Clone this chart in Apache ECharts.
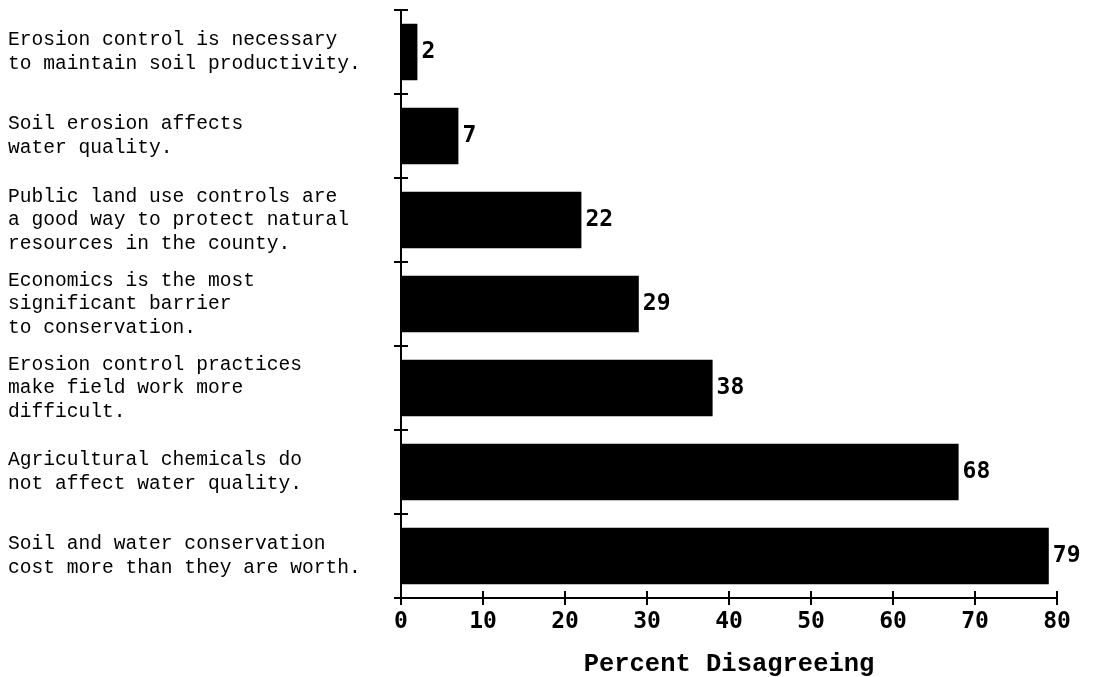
<!DOCTYPE html>
<html>
<head>
<meta charset="utf-8">
<script src="https://cdn.jsdelivr.net/npm/echarts@6/dist/echarts.min.js"></script>
<style>
  html, body { margin: 0; padding: 0; background: #fff; }
  #chart { width: 1093px; height: 677px; }
</style>
</head>
<body>
<div id="chart"></div>
<script>
// Statements shown on the left, top to bottom
let statements = [
    "Erosion control is necessary\nto maintain soil productivity.",
    "Soil erosion affects\nwater quality.",
    "Public land use controls are\na good way to protect natural\nresources in the county.",
    "Economics is the most\nsignificant barrier\nto conservation.",
    "Erosion control practices\nmake field work more\ndifficult.",
    "Agricultural chemicals do\nnot affect water quality.",
    "Soil and water conservation\ncost more than they are worth."
];
// Percent disagreeing
let percent_disagreeing = [2, 7, 22, 29, 38, 68, 79];
let axis_title = "Percent Disagreeing";

let chart_dom = document.getElementById("chart");
let chart = echarts.init(chart_dom);

let mono_bold = "'DejaVu Sans Mono', monospace";
let typewriter = "'Liberation Mono', 'Courier New', monospace";

//--------------------Axes--------------------
let x_axis_main = {
    type: 'value',
    min: 0,
    max: 80,
    interval: 10,
    name: axis_title,
    nameLocation: 'middle',
    nameGap: 54,
    nameTextStyle: {
        color: '#000',
        fontFamily: typewriter,
        fontWeight: 'bold',
        fontSize: 25.5
    },
    axisLine: { show: true, lineStyle: { color: '#000', width: 2 } },
    axisTick: { show: true, length: 7, lineStyle: { color: '#000', width: 2 } },
    axisLabel: {
        color: '#000',
        fontFamily: mono_bold,
        fontWeight: 'bold',
        fontSize: 23,
        margin: 13
    },
    splitLine: { show: false }
};
// second x axis only to draw the inner half of the ticks
let x_axis_inner = {
    type: 'value',
    position: 'bottom',
    min: 0,
    max: 80,
    interval: 10,
    axisLine: { show: false },
    axisTick: { show: true, inside: true, length: 7, lineStyle: { color: '#000', width: 2 } },
    axisLabel: { show: false },
    splitLine: { show: false }
};
let y_axis_main = {
    type: 'category',
    data: statements,
    inverse: true,
    axisLine: { show: true, lineStyle: { color: '#000', width: 2 } },
    axisTick: { show: true, length: 7, lineStyle: { color: '#000', width: 2 } },
    axisLabel: {
        color: '#000',
        fontFamily: typewriter,
        fontSize: 19.6,
        lineHeight: 23.5,
        align: 'left',
        margin: 393
    }
};
// second y axis only to draw the inner half of the ticks
let y_axis_inner = {
    type: 'category',
    position: 'left',
    data: statements,
    inverse: true,
    axisLine: { show: false },
    axisTick: { show: true, inside: true, length: 7, lineStyle: { color: '#000', width: 2 } },
    axisLabel: { show: false }
};

//--------------------Series--------------------
let bar_series = {
    type: 'bar',
    data: percent_disagreeing,
    barWidth: '67%',
    itemStyle: { color: '#000' },
    label: {
        show: true,
        position: 'right',
        distance: 4,
        color: '#000',
        fontFamily: mono_bold,
        fontWeight: 'bold',
        fontSize: 23
    },
    silent: true
};

let option = {
    backgroundColor: '#fff',
    animation: false,
    grid: { left: 401, right: 36, top: 10, bottom: 79, containLabel: false, outerBoundsMode: 'none' },
    xAxis: [x_axis_main, x_axis_inner],
    yAxis: [y_axis_main, y_axis_inner],
    series: [bar_series]
};
chart.setOption(option, true);
</script>
</body>
</html>
